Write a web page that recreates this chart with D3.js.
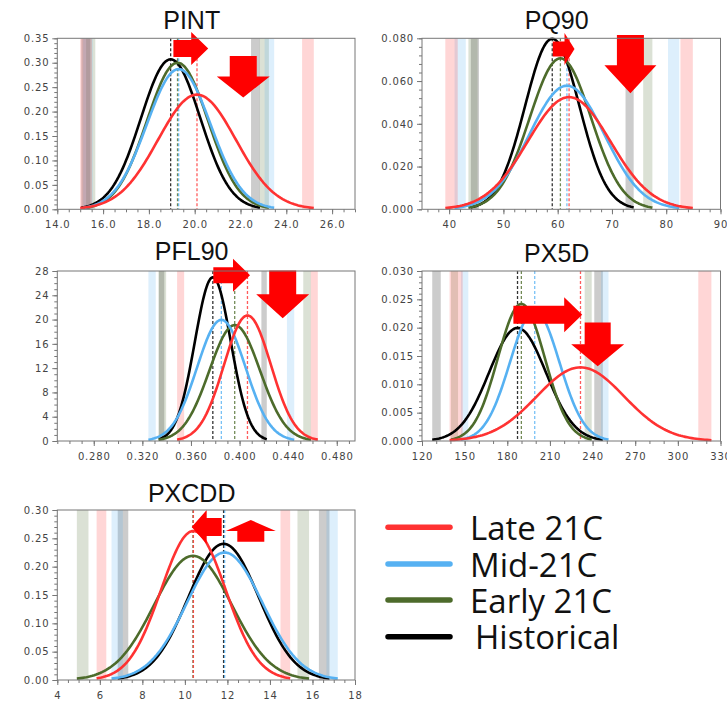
<!DOCTYPE html>
<html>
<head>
<meta charset="utf-8">
<script src="https://cdn.jsdelivr.net/npm/d3@7"></script>
<style>
  body { margin: 0; background: #fff; }
  .tick text { font-family: "DejaVu Sans", sans-serif; font-size: 10px; letter-spacing: 0.8px; fill: #444; }
</style>
</head>
<body>
<svg id="chart" width="727" height="704"></svg>
<script>
// series, in legend order
var seriesNames = ["Late 21C", "Mid-21C", "Early 21C", "Historical"];
var seriesColors = ["#ff3232", "#56b1f2", "#4d6b2b", "#000000"];

// fitted normal distributions: mean and std dev per series
var meanPINT = [20.1, 19.3, 19.25, 18.95];
var sdPINT   = [1.70, 1.39, 1.33, 1.30];
var meanPQ90 = [62.1, 61.7, 60.5, 59.0];
var sdPQ90   = [7.6, 6.9, 5.65, 5.0];
var meanPFL90 = [0.4065, 0.385, 0.396, 0.378];
var sdPFL90   = [0.0193, 0.0200, 0.0209, 0.0148];
var meanPX5D = [231.5, 199.3, 189.9, 187.2];
var sdPX5D   = [30.7, 17.3, 16.5, 20.0];
var meanPXCDD = [10.4, 11.87, 10.38, 11.82];
var sdPXCDD   = [1.517, 1.773, 1.82, 1.66];

// axis ranges and ticks
var xDomPINT = [14, 27],     yDomPINT = [0, 0.35];
var xDomPQ90 = [35, 90],     yDomPQ90 = [0, 0.08];
var xDomPFL90 = [0.25, 0.495], yDomPFL90 = [0, 28];
var xDomPX5D = [120, 330],   yDomPX5D = [0, 0.03];
var xDomPXCDD = [4, 18],     yDomPXCDD = [0, 0.30];

var xTicksPINT = [14, 16, 18, 20, 22, 24, 26];
var yTicksPINT = [0, 0.05, 0.10, 0.15, 0.20, 0.25, 0.30, 0.35];
var xTicksPQ90 = [40, 50, 60, 70, 80, 90];
var yTicksPQ90 = [0, 0.02, 0.04, 0.06, 0.08];
var xTicksPFL90 = [0.28, 0.32, 0.36, 0.40, 0.44, 0.48];
var yTicksPFL90 = [0, 4, 8, 12, 16, 20, 24, 28];
var xTicksPX5D = [120, 150, 180, 210, 240, 270, 300, 330];
var yTicksPX5D = [0, 0.005, 0.010, 0.015, 0.020, 0.025, 0.030];
var xTicksPXCDD = [4, 6, 8, 10, 12, 14, 16, 18];
var yTicksPXCDD = [0, 0.05, 0.10, 0.15, 0.20, 0.25, 0.30];

// red shift arrows, in data units: [tailX, tailY, tipX, tipY]
var arrowsPINT  = [[19.07, 0.329, 20.59, 0.329], [22.12, 0.314, 22.12, 0.229]];
var arrowsPQ90  = [[59.1, 0.0750, 63.1, 0.0750], [73.4, 0.0815, 73.4, 0.0543]];
var arrowsPFL90 = [[0.3784, 27.3, 0.4086, 27.3], [0.4355, 28.1, 0.4355, 20.2]];
var arrowsPX5D  = [[184.3, 0.0223, 232.7, 0.0223], [243.6, 0.0209, 243.6, 0.0132]];
var arrowsPXCDD = [[11.73, 0.270, 10.32, 0.270], [13.1, 0.244, 13.1, 0.2823]];

var svg = d3.select("#chart");

// left / right column and row extents
var cols = [[57.3, 355], [422, 720.5]];
var rows = [[38.3, 209.3], [271, 441], [510, 680]];

function drawPanel(p) {
  var x = d3.scaleLinear().domain(p.xDom).range(cols[p.col]);
  var y = d3.scaleLinear().domain(p.yDom).range([rows[p.row][1], rows[p.row][0]]);
  var g = svg.append("g");
  var x0 = cols[p.col][0], x1 = cols[p.col][1];
  var y0 = rows[p.row][0], y1 = rows[p.row][1];

  var clipId = "clip" + p.title;
  g.append("clipPath").attr("id", clipId)
    .append("rect").attr("x", x0).attr("y", y0).attr("width", x1 - x0).attr("height", y1 - y0);
  var plot = g.append("g").attr("clip-path", "url(#" + clipId + ")");

  var order = [3, 2, 1, 0];

  // shaded bands at the tails
  order.forEach(function(i) {
    var m = p.mean[i], s = p.sd[i];
    [[m - 3 * s, m - 2.7 * s], [m + 2.7 * s, m + 3 * s]].forEach(function(b) {
      plot.append("rect")
        .attr("x", x(b[0])).attr("y", y0)
        .attr("width", x(b[1]) - x(b[0])).attr("height", y1 - y0)
        .attr("fill", seriesColors[i]).attr("fill-opacity", 0.2);
    });
  });

  // dashed mean lines
  order.forEach(function(i) {
    plot.append("line")
      .attr("x1", x(p.mean[i])).attr("x2", x(p.mean[i]))
      .attr("y1", y0).attr("y2", y1)
      .attr("stroke", seriesColors[i]).attr("stroke-width", 1.3)
      .attr("stroke-opacity", 0.8)
      .attr("stroke-dasharray", "3,2");
  });

  // pdf curves
  var line = d3.line().x(function(d) { return x(d[0]); }).y(function(d) { return y(d[1]); });
  order.forEach(function(i) {
    var m = p.mean[i], s = p.sd[i];
    var pts = d3.range(0, 121).map(function(k) {
      var xv = m - 3 * s + k * 6 * s / 120;
      var z = (xv - m) / s;
      return [xv, Math.exp(-0.5 * z * z) / (s * Math.sqrt(2 * Math.PI))];
    });
    g.append("path").datum(pts).attr("d", line)
      .attr("fill", "none").attr("stroke", seriesColors[i])
      .attr("stroke-width", 2.6).attr("stroke-linejoin", "round");
  });

  // arrows
  p.arrows.forEach(function(a, k) {
    var sz = p.arrowSizes[k];
    var tx = x(a[0]), ty = y(a[1]), hx = x(a[2]), hy = y(a[3]);
    var len = Math.hypot(hx - tx, hy - ty);
    var ux = (hx - tx) / len, uy = (hy - ty) / len;
    var px = -uy, py = ux;
    var bw = sz[0] / 2, hw = sz[1] / 2, hl = sz[2];
    var bx = hx - ux * hl, by = hy - uy * hl;
    var poly = [
      [tx + px * bw, ty + py * bw],
      [bx + px * bw, by + py * bw],
      [bx + px * hw, by + py * hw],
      [hx, hy],
      [bx - px * hw, by - py * hw],
      [bx - px * bw, by - py * bw],
      [tx - px * bw, ty - py * bw]
    ];
    g.append("polygon").attr("points", poly.map(function(q) { return q.join(","); }).join(" "))
      .attr("fill", "#ff0000");
  });

  // frame
  g.append("rect").attr("x", x0).attr("y", y0).attr("width", x1 - x0).attr("height", y1 - y0)
    .attr("fill", "none").attr("stroke", "#777").attr("stroke-width", 1);

  // axes
  var xa = g.append("g").attr("transform", "translate(0," + y1 + ")")
    .call(d3.axisBottom(x).tickValues(p.xTicks).tickFormat(d3.format(p.xFmt)).tickSize(5).tickPadding(6.5).tickSizeOuter(0));
  var xm = g.append("g").attr("transform", "translate(0," + y1 + ")")
    .call(d3.axisBottom(x).tickValues(d3.range(Math.ceil(p.xDom[0] / p.xMinor - 1e-9), Math.floor(p.xDom[1] / p.xMinor + 1e-9) + 1).map(function(k) { return k * p.xMinor; }))
      .tickFormat("").tickSize(3).tickSizeOuter(0));
  var ya = g.append("g").attr("transform", "translate(" + x0 + ",0)")
    .call(d3.axisLeft(y).tickValues(p.yTicks).tickFormat(d3.format(p.yFmt)).tickSize(5).tickPadding(3).tickSizeOuter(0));
  var ym = g.append("g").attr("transform", "translate(" + x0 + ",0)")
    .call(d3.axisLeft(y).tickValues(d3.range(0, Math.round(p.yDom[1] / p.yMinor) + 1).map(function(k) { return k * p.yMinor; }))
      .tickFormat("").tickSize(3).tickSizeOuter(0));
  [xa, xm, ya, ym].forEach(function(a) {
    a.select(".domain").remove();
    a.selectAll(".tick line").attr("stroke", "#777");
  });

  // title
  svg.append("text").attr("x", p.titleX).attr("y", p.titleY)
    .attr("text-anchor", "middle")
    .style("font-family", "Liberation Sans, Arial, sans-serif")
    .style("font-size", "25px").attr("fill", "#111")
    .text(p.title);
}

drawPanel({ title: "PINT", col: 0, row: 0, titleX: 191.7, titleY: 28.5,
  mean: meanPINT, sd: sdPINT, xDom: xDomPINT, yDom: yDomPINT,
  xTicks: xTicksPINT, yTicks: yTicksPINT, xFmt: ".1f", yFmt: ".2f", xMinor: 0.5, yMinor: 0.01,
  arrows: arrowsPINT, arrowSizes: [[17, 33, 17], [27, 53, 21]] });

drawPanel({ title: "PQ90", col: 1, row: 0, titleX: 556.7, titleY: 28.5,
  mean: meanPQ90, sd: sdPQ90, xDom: xDomPQ90, yDom: yDomPQ90,
  xTicks: xTicksPQ90, yTicks: yTicksPQ90, xFmt: "d", yFmt: ".3f", xMinor: 2, yMinor: 0.004,
  arrows: arrowsPQ90, arrowSizes: [[15, 32, 10], [27, 52, 28]] });

drawPanel({ title: "PFL90", col: 0, row: 1, titleX: 191.7, titleY: 260,
  mean: meanPFL90, sd: sdPFL90, xDom: xDomPFL90, yDom: yDomPFL90,
  xTicks: xTicksPFL90, yTicks: yTicksPFL90, xFmt: ".3f", yFmt: "d", xMinor: 0.01, yMinor: 1,
  arrows: arrowsPFL90, arrowSizes: [[16, 33, 17], [27, 53, 24]] });

drawPanel({ title: "PX5D", col: 1, row: 1, titleX: 556.7, titleY: 261.5,
  mean: meanPX5D, sd: sdPX5D, xDom: xDomPX5D, yDom: yDomPX5D,
  xTicks: xTicksPX5D, yTicks: yTicksPX5D, xFmt: "d", yFmt: ".3f", xMinor: 10, yMinor: 0.001,
  arrows: arrowsPX5D, arrowSizes: [[18, 35, 18], [26, 53, 22]] });

drawPanel({ title: "PXCDD", col: 0, row: 2, titleX: 191.7, titleY: 501.5,
  mean: meanPXCDD, sd: sdPXCDD, xDom: xDomPXCDD, yDom: yDomPXCDD,
  xTicks: xTicksPXCDD, yTicks: yTicksPXCDD, xFmt: "d", yFmt: ".2f", xMinor: 0.5, yMinor: 0.01,
  arrows: arrowsPXCDD, arrowSizes: [[18, 34, 15], [27, 50, 11]] });

// legend
var legendY = [527.3, 564, 600, 636.7];
var legendTextX = [470, 470, 470, 475];
var legend = svg.append("g");
seriesNames.forEach(function(name, i) {
  legend.append("line")
    .attr("x1", 388).attr("x2", 450)
    .attr("y1", legendY[i]).attr("y2", legendY[i])
    .attr("stroke", seriesColors[i]).attr("stroke-width", 5.5)
    .attr("stroke-linecap", "round");
  legend.append("text")
    .attr("x", legendTextX[i]).attr("y", legendY[i] + 12.5)
    .style("font-family", "Open Sans, sans-serif")
    .style("font-size", "33px").attr("fill", "#111")
    .text(name);
});
</script>
</body>
</html>
